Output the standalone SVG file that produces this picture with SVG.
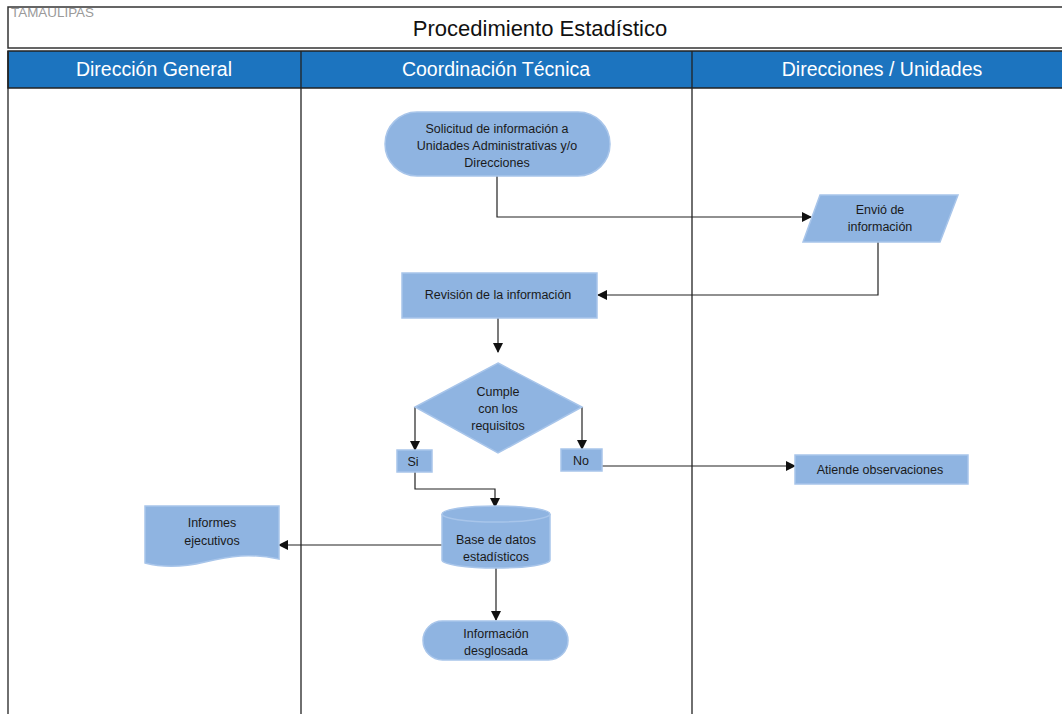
<svg xmlns="http://www.w3.org/2000/svg" width="1062" height="714" viewBox="0 0 1062 714">
<defs>
<marker id="ah" markerWidth="10" markerHeight="10" refX="9" refY="5" orient="auto" markerUnits="userSpaceOnUse">
<path d="M0,0 L10,5 L0,10 Z" fill="#111"/>
</marker>
<style>
.shape{fill:#8fb4e1;stroke:#a8c5ea;stroke-width:1.5}
.t{font-family:"Liberation Sans",Arial,sans-serif;font-size:12.5px;fill:#1a1a1a;text-anchor:middle}
.hd{font-family:"Liberation Sans",Arial,sans-serif;font-size:19.5px;fill:#ffffff;text-anchor:middle}
.conn{fill:none;stroke:#222;stroke-width:1.2}
.lane{stroke:#222;stroke-width:1.3}
</style>
</defs>
<rect x="0" y="0" width="1062" height="714" fill="#ffffff"/>
<g id="title">
<rect x="8" y="7" width="1060" height="41" fill="#ffffff" stroke="#333" stroke-width="1.5"/>
<text x="540" y="36" font-family="Liberation Sans,Arial,sans-serif" font-size="22" fill="#111" text-anchor="middle">Procedimiento Estadístico</text>
</g>
<text x="11" y="17" font-family="Liberation Sans,Arial,sans-serif" font-size="13.5" fill="#9a9a9a" textLength="83" lengthAdjust="spacingAndGlyphs">TAMAULIPAS</text>
<g id="header">
<rect x="8" y="51" width="1060" height="37" fill="#1c74bf" stroke="#222" stroke-width="1.5"/>
<text class="hd" x="154" y="76">Dirección General</text>
<text class="hd" x="496" y="76">Coordinación Técnica</text>
<text class="hd" x="882" y="76">Direcciones / Unidades</text>
</g>
<g id="lanes">
<line class="lane" x1="8" y1="51" x2="8" y2="714"/>
<line class="lane" x1="301" y1="51" x2="301" y2="714"/>
<line class="lane" x1="692" y1="51" x2="692" y2="714"/>
</g>
<g id="connectors">
<path class="conn" d="M497,176 V217 H811" marker-end="url(#ah)"/>
<path class="conn" d="M878,242 V295 H598" marker-end="url(#ah)"/>
<path class="conn" d="M498,318 V352" marker-end="url(#ah)"/>
<path class="conn" d="M415,407 V450" marker-end="url(#ah)"/>
<path class="conn" d="M582,407 V449" marker-end="url(#ah)"/>
<path class="conn" d="M602,466 H795" marker-end="url(#ah)"/>
<path class="conn" d="M415,472 V489 H495 V507" marker-end="url(#ah)"/>
<path class="conn" d="M442,545 H279" marker-end="url(#ah)"/>
<path class="conn" d="M496,567 V620" marker-end="url(#ah)"/>
</g>
<g id="solicitud">
<rect class="shape" x="385" y="112" width="225" height="64" rx="32" ry="32"/>
<text class="t" x="497" y="133">Solicitud de información a</text>
<text class="t" x="497" y="150">Unidades Administrativas y/o</text>
<text class="t" x="497" y="167">Direcciones</text>
</g>
<g id="envio">
<polygon class="shape" points="820,195 958,195 940,242 803,242"/>
<text class="t" x="880" y="214">Envió de</text>
<text class="t" x="880" y="231">información</text>
</g>
<g id="revision">
<rect class="shape" x="402" y="273" width="195" height="45"/>
<text class="t" x="498" y="299">Revisión de la información</text>
</g>
<g id="cumple">
<polygon class="shape" points="498,363 582,407 498,453 415,407"/>
<text class="t" x="498" y="396">Cumple</text>
<text class="t" x="498" y="413">con los</text>
<text class="t" x="498" y="430">requisitos</text>
</g>
<g id="si">
<rect class="shape" x="397" y="450" width="35" height="22"/>
<text class="t" x="413" y="466">Si</text>
</g>
<g id="no">
<rect class="shape" x="561" y="449" width="41" height="22"/>
<text class="t" x="581" y="465">No</text>
</g>
<g id="atiende">
<rect class="shape" x="795" y="455" width="173" height="29"/>
<text class="t" x="880" y="474">Atiende observaciones</text>
</g>
<g id="base">
<path class="shape" d="M442,514 A54,8 0 0 1 550,514 V560 A54,8 0 0 1 442,560 Z"/>
<path d="M442,514 A54,8 0 0 0 550,514" fill="none" stroke="#a8c5ea" stroke-width="1.5"/>
<text class="t" x="496" y="544">Base de datos</text>
<text class="t" x="496" y="561">estadísticos</text>
</g>
<g id="informes">
<path class="shape" d="M145,506 H279 V559 C250,553 230,556 205,562 C180,568 160,567 145,563 Z"/>
<text class="t" x="212" y="527">Informes</text>
<text class="t" x="212" y="545">ejecutivos</text>
</g>
<g id="desglosada">
<rect class="shape" x="423" y="621" width="145" height="39" rx="19.5" ry="19.5"/>
<text class="t" x="496" y="638">Información</text>
<text class="t" x="496" y="655">desglosada</text>
</g>
</svg>
